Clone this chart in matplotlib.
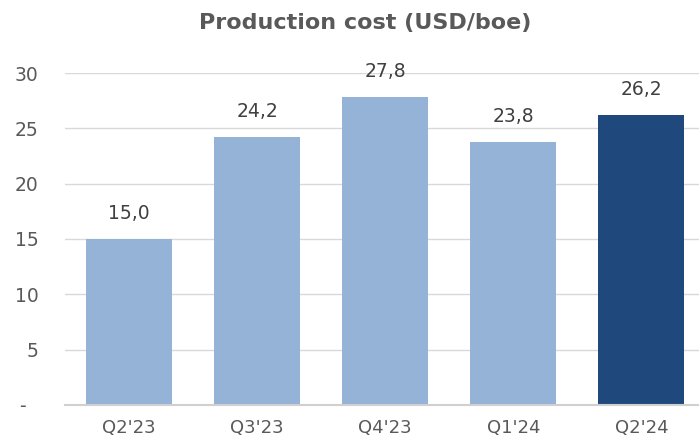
import matplotlib.pyplot as plt

# data
quarters = ["Q2'23", "Q3'23", "Q4'23", "Q1'24", "Q2'24"]
cost = [15.0, 24.2, 27.8, 23.8, 26.2]
colors = ["#95B3D7", "#95B3D7", "#95B3D7", "#95B3D7", "#1F497D"]
ylabels = ["-  ", "5", "10", "15", "20", "25", "30"]

plt.rcParams['font.family'] = ['DejaVu Sans']

fig = plt.figure(figsize=(6.99, 4.40), dpi=100)
ax = fig.add_axes([0.093, 0.08, 0.907, 0.754])

x = range(len(quarters))
bars = ax.bar(x, cost, width=0.67, color=colors, zorder=3)

for xi, v in zip(x, cost):
    ax.text(xi, v + 1.45, f"{v:.1f}".replace(".", ","), ha="center", va="bottom",
            fontsize=13.5, color="#404040")

ax.set_ylim(0, 30)
ax.set_xlim(-0.5, 4.45)
ax.set_yticks([0, 5, 10, 15, 20, 25, 30])
ax.set_yticklabels(ylabels)
ax.set_xticks(list(x))
ax.set_xticklabels(quarters)
ax.tick_params(axis="both", length=0, labelsize=13.5, labelcolor="#595959")
ax.tick_params(axis="x", labelsize=13, pad=10)
ax.tick_params(axis="y", pad=19)

ax.grid(axis="y", color="#D9D9D9", linewidth=1, zorder=0)
for s in ["top", "right", "left"]:
    ax.spines[s].set_visible(False)
ax.spines["bottom"].set_color("#D0D0D0")
ax.spines["bottom"].set_linewidth(1.5)
ax.spines["bottom"].set_zorder(4)

fig.suptitle("Production cost (USD/boe)", fontsize=16, fontweight="bold",
             color="#595959", x=0.523, y=0.97)

fig.savefig("out.png", dpi=100)
